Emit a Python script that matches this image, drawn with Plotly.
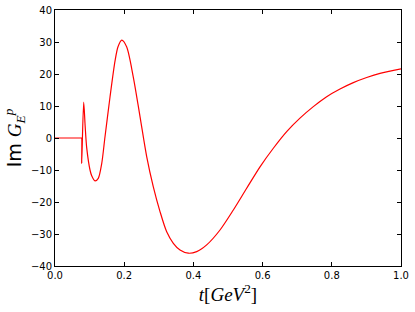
import plotly.graph_objects as go

# Data
t_vals = [0.0, 0.040, 0.0766, 0.0770, 0.0772, 0.0829, 0.0870, 0.0916, 0.1012, 0.1061, 0.1156,
          0.1251, 0.1350, 0.1445, 0.1590, 0.1734, 0.1821, 0.1930, 0.2070, 0.2260,
          0.2457, 0.2650, 0.2840, 0.3035, 0.3228, 0.3420, 0.3613, 0.3853, 0.4095,
          0.4384, 0.4769, 0.5154, 0.5540, 0.5925, 0.6310, 0.6696, 0.7080, 0.7466,
          0.7852, 0.8237, 0.8622, 0.9008, 0.9393, 1.0]
im_gep = [0.0, 0.0, 0.0, 0.0, -7.9, 11.2, 4.0, -3.0, -10.0, -11.8, -13.4,
          -12.6, -8.0, 0.4, 12.8, 24.0, 28.5, 30.6, 28.5, 19.2,
          6.7, -5.8, -15.2, -23.0, -29.3, -32.9, -35.0, -36.0, -35.5,
          -33.4, -28.75, -22.5, -15.7, -9.0, -3.2, 2.0, 6.2, 9.8,
          12.9, 15.3, 17.3, 18.9, 20.2, 21.6]

x_ticks = [0.0, 0.2, 0.4, 0.6, 0.8, 1.0]
x_tick_labels = ["0.0", "0.2", "0.4", "0.6", "0.8", "1.0"]
y_ticks = [-40, -30, -20, -10, 0, 10, 20, 30, 40]
y_tick_labels = ["\u221240", "\u221230", "\u221220", "\u221210", "0", "10", "20", "30", "40"]

fig = go.Figure()
fig.add_trace(go.Scatter(x=t_vals, y=im_gep, mode="lines",
                         line=dict(color="red", width=1.2, shape="spline", smoothing=0.8),
                         showlegend=False, hoverinfo="skip"))

axis_common = dict(showline=True, linecolor="black", linewidth=1, mirror="ticks",
                   ticks="inside", ticklen=4, tickcolor="black", tickwidth=1,
                   showgrid=False, zeroline=False, automargin=False,
                   tickfont=dict(family="DejaVu Sans", size=10, color="black"))

fig.update_xaxes(range=[0, 1], tickvals=x_ticks, ticktext=x_tick_labels,
                 title=dict(text="<i>t</i>[<i>GeV</i><sup>2</sup>]",
                            font=dict(family="Liberation Serif", size=19, color="black"),
                            standoff=6),
                 **axis_common)
fig.update_yaxes(range=[-40, 40], tickvals=y_ticks, ticktext=y_tick_labels,
                 title=dict(text="Im <span style=\"font-family:'Liberation Serif'\"><i>G</i><sub><i>E</i></sub><sup><i>p</i></sup></span>",
                            font=dict(family="DejaVu Sans", size=19, color="black"),
                            standoff=4),
                 **axis_common)

fig.update_layout(width=415, height=312,
                  margin=dict(l=55, r=14, t=10, b=46),
                  paper_bgcolor="white", plot_bgcolor="white")

fig.write_html("out.html", config={"displayModeBar": False},
               post_script="document.body.style.margin='0';")
